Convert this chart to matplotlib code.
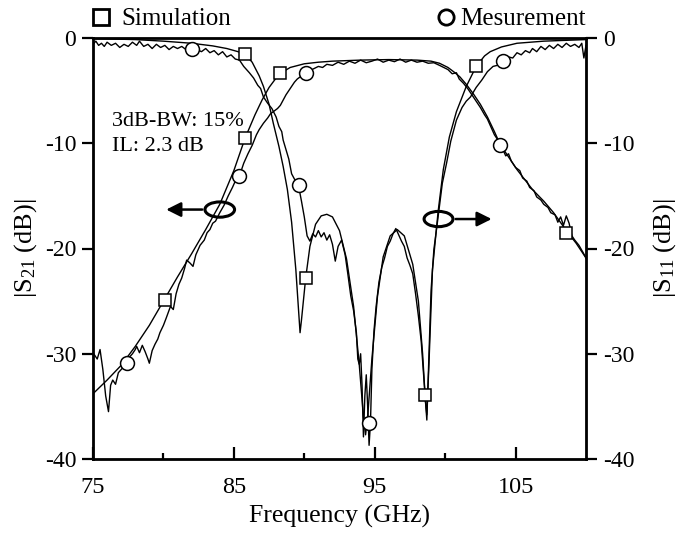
import matplotlib
matplotlib.use("Agg")
import matplotlib.pyplot as plt
from matplotlib.patches import Ellipse
from matplotlib.lines import Line2D
from matplotlib.ticker import FixedLocator, MultipleLocator

plt.rcParams['font.family'] = ['Liberation Serif', 'DejaVu Serif']
plt.rcParams['axes.unicode_minus'] = False

# --- simulated |S21| (smooth) ---
s21_sim_f = [75, 76, 77, 78, 79, 80, 81, 82, 83, 84, 85, 85.8, 86.5, 87, 87.5, 88,
             88.3, 89, 90, 91, 92, 94, 96, 98, 99, 99.6, 100.2, 100.7, 101.05, 101.5,
             102, 102.5, 103, 103.5, 103.9, 104.5, 105.1, 106.2, 107, 107.7, 108.6,
             109.3, 110]
s21_sim_db = [-33.8, -32.5, -31.1, -29.3, -27.3, -25.0, -22.7, -20.5, -18.2, -15.8,
              -12.6, -9.5, -7.3, -5.9, -4.7, -3.8, -3.36, -2.8, -2.45, -2.3, -2.2,
              -2.1, -2.05, -2.1, -2.2, -2.4, -2.8, -3.3, -3.7, -4.4, -5.3, -6.3, -7.5,
              -8.9, -10.1, -11.3, -12.5, -14.4, -15.5, -16.6, -18.3, -19.5, -20.9]

# --- simulated |S11| (smooth) ---
s11_sim_f = [75, 78, 80, 82, 83.5, 84.5, 85.3, 85.8, 86.3, 86.8, 87.1, 87.5, 87.8,
             88.2, 88.5, 88.8, 89.1, 89.4, 89.6, 89.7, 89.8, 90.1, 90.4, 90.8, 91.2,
             91.6, 92.0, 92.5, 93.0, 93.5, 93.9, 94.2, 94.35, 94.5, 94.8, 95.2, 95.6,
             96.1, 96.6, 97.1, 97.7, 98.1, 98.4, 98.6, 98.7, 98.85, 99.1, 99.5, 99.87,
             100.3, 100.8, 101.5, 102.2, 102.8, 103.2, 104, 105.1, 107, 110]
s11_sim_db = [-0.05, -0.15, -0.3, -0.5, -0.75, -1.0, -1.3, -1.55, -2.3, -3.6, -4.6,
              -6.3, -8.1, -10.3, -12.2, -14.4, -17.5, -22, -26, -28.0, -26.8, -22.8,
              -19.8, -17.7, -16.9, -16.75, -17.0, -18.3, -21, -25.5, -31, -36, -37.7,
              -36, -30.5, -24.5, -20.8, -18.8, -18.2, -18.8, -21.5, -25, -30, -34.5,
              -35.8, -31, -22, -16.5, -12.5, -9.4, -7.0, -4.6, -2.7, -1.7, -1.3,
              -0.85, -0.5, -0.3, -0.15]

# --- measured |S21| (noisy) ---
s21_meas_f = [75.0, 75.3, 75.5, 75.7, 75.9, 76.1, 76.25, 76.4, 76.6, 76.8, 77.0, 77.2,
              77.4, 77.6, 77.8, 78.0, 78.1, 78.3, 78.5, 78.7, 78.9, 79.0, 79.2, 79.4,
              79.6, 79.75, 80.0, 80.2, 80.5, 80.7, 80.9, 81.1, 81.3, 81.5, 81.65, 81.9,
              82.1, 82.3, 82.6, 82.9, 83.1, 83.3, 83.5, 83.7, 84.0, 84.3, 84.6, 84.9,
              85.1, 85.4, 85.7, 86.0, 86.3, 86.6, 86.8, 87.1, 87.4, 87.6, 87.9, 88.1,
              88.3, 88.5, 88.7, 88.9, 89.1, 89.3, 89.5, 89.8, 90.1, 90.4, 90.7, 91.0,
              91.3, 91.6, 92.0, 92.4, 92.8, 93.2, 93.6, 94.0, 94.4, 94.8, 95.2, 95.6,
              96.0, 96.4, 96.8, 97.2, 97.6, 98.0, 98.4, 98.8, 99.2, 99.6, 99.9, 100.2,
              100.5, 100.8, 101.0, 101.3, 101.6, 101.9, 102.2, 102.5, 102.8, 103.0,
              103.2, 103.5, 103.7, 103.9, 104.1, 104.3, 104.5, 104.7, 105.0, 105.3,
              105.5, 105.8, 106.0, 106.3, 106.5, 106.8, 107.0, 107.3, 107.5, 107.8,
              108.0, 108.2, 108.4, 108.6, 108.8, 109.0, 109.2, 109.5, 109.8, 110.0]
s21_meas_db = [-29.9, -30.5, -29.6, -31.5, -34.0, -35.5, -33.0, -32.5, -32.9, -31.8,
               -31.5, -31.2, -30.9, -30.3, -30.0, -29.6, -29.3, -29.9, -29.2, -29.8,
               -30.5, -30.9, -29.7, -29.1, -28.6, -28.0, -27.3, -26.6, -25.5, -25.8,
               -24.3, -23.4, -22.8, -21.9, -21.1, -21.4, -21.7, -20.6, -19.7, -19.2,
               -18.5, -18.2, -17.6, -17.4, -16.6, -15.9, -15.0, -14.2, -13.6, -13.1,
               -11.9, -11.0, -10.2, -9.2, -8.7, -8.1, -7.6, -7.2, -6.9, -6.7, -6.4,
               -5.9, -5.4, -5.0, -4.6, -4.2, -3.9, -3.6, -3.36, -3.1, -2.9, -2.7, -2.8,
               -2.5, -2.6, -2.3, -2.5, -2.2, -2.4, -2.1, -2.35, -2.2, -2.0, -2.3, -2.1,
               -2.25, -2.0, -2.3, -2.1, -2.3, -2.2, -2.4, -2.35, -2.6, -2.8, -3.0,
               -3.4, -3.3, -3.9, -4.3, -4.8, -5.4, -6.0, -6.6, -7.3, -7.7, -8.3, -9.2,
               -9.6, -10.2, -10.6, -11.2, -11.0, -11.7, -12.3, -12.6, -13.3, -13.6,
               -14.2, -14.5, -15.1, -15.4, -15.8, -16.1, -16.6, -16.8, -17.5, -17.0,
               -17.8, -16.9, -17.6, -18.8, -19.2, -19.7, -20.4, -20.9]

# --- measured |S11| (noisy) ---
s11_meas_f = [75.0, 75.2, 75.4, 75.6, 75.8, 76.0, 76.3, 76.6, 76.9, 77.2, 77.5, 77.8,
              78.1, 78.3, 78.6, 78.9, 79.2, 79.5, 79.8, 80.1, 80.4, 80.7, 81.0, 81.3,
              81.6, 82.0, 82.4, 82.7, 83.0, 83.3, 83.6, 83.9, 84.2, 84.5, 84.8, 85.1,
              85.4, 85.7, 86.1, 86.4, 86.7, 86.9, 87.1, 87.4, 87.7, 88.0, 88.2, 88.4,
              88.5, 88.7, 88.9, 89.1, 89.3, 89.6, 89.8, 90.0, 90.2, 90.4, 90.6, 90.8,
              91.0, 91.2, 91.4, 91.6, 91.8, 92.0, 92.2, 92.4, 92.65, 92.9, 93.1, 93.3,
              93.5, 93.7, 93.8, 93.9, 94.0, 94.1, 94.2, 94.3, 94.4, 94.5, 94.6, 94.7,
              94.8, 94.95, 95.1, 95.3, 95.5, 95.7, 95.9, 96.1, 96.3, 96.5, 96.7, 96.9,
              97.1, 97.3, 97.5, 97.7, 97.9, 98.1, 98.3, 98.5, 98.7, 98.85, 99.0, 99.2,
              99.5, 99.8, 100.1, 100.4, 100.8, 101.2, 101.5, 101.8, 102.2, 102.6,
              103.0, 103.4, 103.7, 104.1, 104.5, 104.8, 105.1, 105.4, 105.7, 106.0,
              106.2, 106.5, 106.8, 107.1, 107.4, 107.7, 108.0, 108.3, 108.6, 108.9,
              109.2, 109.5, 109.7, 109.85, 110.0]
s11_meas_db = [-0.6, -0.3, -0.7, -0.5, -0.8, -0.4, -0.7, -0.5, -0.9, -0.6, -0.8, -0.4,
               -0.7, -0.3, -0.8, -0.6, -1.0, -0.6, -0.9, -0.7, -1.1, -0.8, -1.0, -0.8,
               -1.1, -1.0, -1.1, -1.3, -1.0, -1.4, -1.2, -1.6, -1.3, -1.8, -1.6, -2.0,
               -2.1, -2.7, -3.3, -3.8, -4.5, -4.8, -5.6, -6.2, -6.7, -7.5, -8.4, -8.9,
               -9.7, -10.6, -11.5, -12.9, -13.4, -14.1, -15.5, -17.0, -18.8, -19.3,
               -18.6, -18.9, -18.3, -18.9, -18.5, -19.2, -18.7, -19.6, -21.2, -19.8,
               -19.2, -20.6, -22.5, -24.5, -25.9, -28.0, -30.5, -31.0, -30.0, -33.0,
               -37.9, -34.0, -32.0, -35.0, -38.7, -36.5, -31.5, -27.8, -25.5, -23.2,
               -21.8, -20.9, -19.8, -19.3, -18.6, -18.1, -18.7, -19.3, -19.8, -20.9,
               -21.6, -22.4, -24.3, -26.4, -28.8, -32.5, -36.3, -30.0, -24.0, -20.1,
               -17.0, -13.8, -11.9, -9.8, -7.8, -6.6, -6.0, -5.6, -4.7, -4.0, -3.2,
               -2.7, -2.6, -2.2, -1.8, -1.9, -1.4, -1.6, -1.2, -1.4, -1.0, -1.3, -0.8,
               -1.1, -0.7, -1.0, -0.6, -0.9, -0.5, -0.8, -0.6, -0.9, -0.5, -1.9, -0.7]

# --- marker positions ---
sim_mark_f = [85.8, 90.1, 98.6, 102.2, 80.1, 85.8, 88.3, 108.6]
sim_mark_db = [-1.5, -22.8, -33.9, -2.7, -24.9, -9.5, -3.36, -18.5]
meas_mark_f = [82.0, 89.6, 94.6, 104.1, 77.4, 85.4, 90.1, 103.9]
meas_mark_db = [-1.0, -14.0, -36.6, -2.2, -30.85, -13.1, -3.36, -10.2]

x_major = [75, 85, 95, 105]
x_minor = [80, 90, 100]

fig = plt.figure(figsize=(6.86, 5.35), dpi=100)
ax = fig.add_axes([93/686, 1-459/535, 493/686, 421/535])

lw = 1.0
ax.plot(s21_sim_f, s21_sim_db, color='k', lw=lw)
ax.plot(s11_sim_f, s11_sim_db, color='k', lw=lw)
ax.plot(s21_meas_f, s21_meas_db, color='k', lw=lw)
ax.plot(s11_meas_f, s11_meas_db, color='k', lw=lw)
ax.plot(sim_mark_f, sim_mark_db, ls='none', marker='s', ms=9, mfc='white',
        mec='k', mew=1.1, zorder=5)
ax.plot(meas_mark_f, meas_mark_db, ls='none', marker='o', ms=10, mfc='white',
        mec='k', mew=1.1, zorder=5)

ax.set_xlim(75, 110)
ax.set_ylim(-40, 0)
ax.xaxis.set_major_locator(FixedLocator(x_major))
ax.xaxis.set_minor_locator(FixedLocator(x_minor))
ax.yaxis.set_major_locator(MultipleLocator(10))
ax.tick_params(axis='x', which='major', direction='in', length=9, width=1.6,
               labelsize=17.5, pad=13, top=False)
ax.tick_params(axis='x', which='minor', direction='in', length=4, width=1.6, top=False)
ax.tick_params(axis='y', direction='out', length=8, width=1.6, labelsize=17, pad=4)
for sp in ax.spines.values():
    sp.set_linewidth(2.0)

ax2 = ax.twinx()
ax2.set_ylim(-40, 0)
ax2.yaxis.set_major_locator(MultipleLocator(10))
ax2.tick_params(axis='y', direction='out', length=8, width=1.6, labelsize=17, pad=4)

ax.set_xlabel('Frequency (GHz)', fontsize=18.5, labelpad=5)
ax.set_ylabel(r'|S$\mathregular{_{21}}$ (dB)|', fontsize=19, labelpad=4)
ax2.set_ylabel(r'|S$\mathregular{_{11}}$ (dB)|', fontsize=19, rotation=90, labelpad=12)

ax.text(76.33, -7.9, '3dB-BW: 15%', fontsize=16, va='center', ha='left')
ax.text(76.33, -10.3, 'IL: 2.3 dB', fontsize=16, va='center', ha='left')

# ellipse + arrow markers for the curve/axis association
ax.add_patch(Ellipse((84.0, -16.3), 2.1, 1.45, fill=False, lw=2.2, color='k'))
ax.annotate('', xy=(80.0, -16.3), xytext=(82.95, -16.3),
            arrowprops=dict(arrowstyle='-|>', lw=1.8, color='k', mutation_scale=22))
ax.add_patch(Ellipse((99.53, -17.2), 2.05, 1.45, fill=False, lw=2.2, color='k'))
ax.annotate('', xy=(103.5, -17.2), xytext=(100.55, -17.2),
            arrowprops=dict(arrowstyle='-|>', lw=1.8, color='k', mutation_scale=22))

h_sim = Line2D([], [], ls='none', marker='s', ms=11, mfc='white', mec='k', mew=2)
h_meas = Line2D([], [], ls='none', marker='o', ms=11, mfc='white', mec='k', mew=2)
fig.legend([h_sim], ['Simulation'], loc='center left', bbox_to_anchor=(91/686, 1-19/535),
           frameon=False, fontsize=18, handlelength=0.8, handletextpad=0.4,
           borderpad=0, borderaxespad=0)
fig.legend([h_meas], ['Mesurement'], loc='center right', bbox_to_anchor=(586/686, 1-19/535),
           frameon=False, fontsize=18, handlelength=0.8, handletextpad=0.2,
           borderpad=0, borderaxespad=0)

fig.savefig('out.png', dpi=100)
